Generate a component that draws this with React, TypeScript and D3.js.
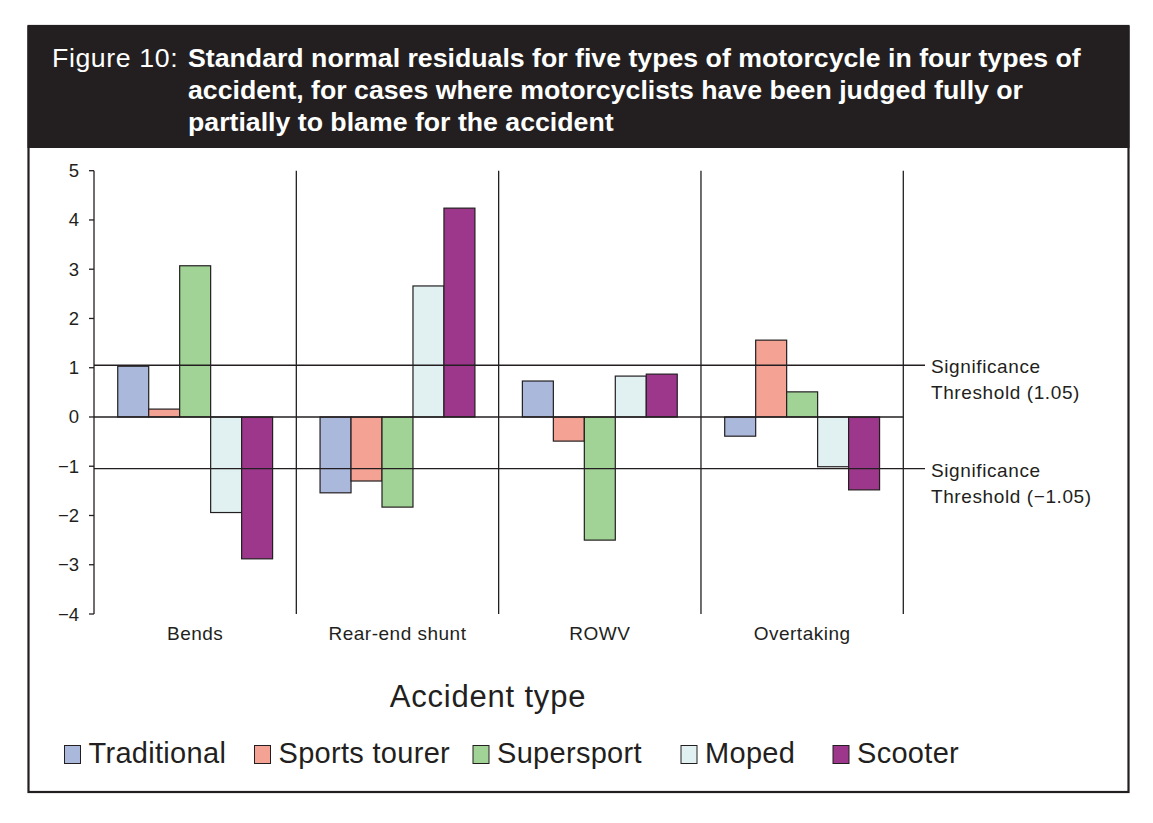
import React from "react";
import * as d3 from "d3";

const categories = ["Bends", "Rear-end shunt", "ROWV", "Overtaking"];
const seriesNames = ["Traditional", "Sports tourer", "Supersport", "Moped", "Scooter"];
const traditional = [1.03, -1.54, 0.73, -0.39];
const sportsTourer = [0.16, -1.3, -0.49, 1.56];
const supersport = [3.07, -1.83, -2.5, 0.51];
const moped = [-1.94, 2.66, 0.83, -1.01];
const scooter = [-2.88, 4.24, 0.87, -1.48];
const seriesValues = [traditional, sportsTourer, supersport, moped, scooter];
const seriesColors = ["#aab8dc", "#f4a294", "#a2d396", "#e1f0f0", "#9c378b"];
const yTicks = [5, 4, 3, 2, 1, 0, -1, -2, -3, -4];
const thresholds = [1.05, -1.05];
const titleLines = [
  "Standard normal residuals for five types of motorcycle in four types of",
  "accident, for cases where motorcyclists have been judged fully or",
  "partially to blame for the accident",
];

const FONT = "'Liberation Sans', Arial, Helvetica, sans-serif";
const DARK = "#231f20";

export default function App() {
  const left = 94;
  const right = 903.3;
  const top = 170.7;
  const bottom = 614;
  const y = d3.scaleLinear().domain([-4, 5]).range([bottom, top]);
  const x0 = d3.scaleBand<string>().domain(categories).range([left, right]).padding(0);
  const x1 = d3
    .scaleBand<string>()
    .domain(seriesNames)
    .range([0, x0.bandwidth()])
    .paddingInner(0)
    .paddingOuter(0.766);
  const fmt = (v: number) => (v < 0 ? "\u2212" + Math.abs(v) : String(v));
  const legendX = [64.5, 254.5, 473, 681, 833];

  return (
    <svg
      width={1153}
      height={823}
      style={{ position: "absolute", left: 0, top: 0, background: "#fff" }}
      fontFamily={FONT}
    >
      {/* frame */}
      <rect x={28.5} y={26} width={1100} height={766} fill="#fff" stroke={DARK} strokeWidth={2.2} />
      <rect x={27.5} y={26} width={1102} height={122} fill={DARK} />
      <text x={52} y={67} fill="#fff" fontSize={26.7} fontWeight="normal" letterSpacing={0.6}>
        Figure 10:
      </text>
      {titleLines.map((t, i) => (
        <text key={i} x={188} y={67 + i * 32} fill="#fff" fontSize={26.7} fontWeight="bold">
          {t}
        </text>
      ))}

      {/* bars */}
      {categories.map((c, ci) => (
        <g key={c} transform={`translate(${x0(c)},0)`}>
          {seriesNames.map((s, si) => {
            const v = seriesValues[si][ci];
            const y0 = y(0);
            const yv = y(v);
            return (
              <rect
                key={s}
                x={x1(s)}
                y={Math.min(y0, yv)}
                width={x1.bandwidth()}
                height={Math.abs(yv - y0)}
                fill={seriesColors[si]}
                stroke={DARK}
                strokeWidth={1.2}
              />
            );
          })}
        </g>
      ))}

      {/* zero line */}
      <line x1={left} x2={right} y1={y(0)} y2={y(0)} stroke={DARK} strokeWidth={1.3} />
      {/* threshold lines */}
      {thresholds.map((t) => (
        <line key={t} x1={left} x2={925} y1={y(t)} y2={y(t)} stroke={DARK} strokeWidth={1.3} />
      ))}
      {/* dividers */}
      {categories.map((c) => (
        <line
          key={c}
          x1={(x0(c) as number) + x0.bandwidth()}
          x2={(x0(c) as number) + x0.bandwidth()}
          y1={top}
          y2={bottom}
          stroke={DARK}
          strokeWidth={1.3}
        />
      ))}

      {/* y axis */}
      <line x1={left} x2={left} y1={top} y2={bottom} stroke={DARK} strokeWidth={1.3} />
      {yTicks.map((t) => (
        <g key={t}>
          <line x1={left - 5} x2={left} y1={y(t)} y2={y(t)} stroke={DARK} strokeWidth={1.3} />
          <text x={79} y={y(t) + 6.5} textAnchor="end" fontSize={18.5} fill={DARK}>
            {fmt(t)}
          </text>
        </g>
      ))}

      {/* category labels */}
      {categories.map((c) => (
        <text
          key={c}
          x={(x0(c) as number) + x0.bandwidth() / 2}
          y={640}
          textAnchor="middle"
          fontSize={19}
          letterSpacing={0.5}
          fill={DARK}
        >
          {c}
        </text>
      ))}

      {/* threshold labels */}
      {thresholds.map((t) => (
        <g key={"lab" + t}>
          <text x={931} y={y(t) + 8} fontSize={19} letterSpacing={0.6} fill={DARK}>
            Significance
          </text>
          <text x={931} y={y(t) + 34} fontSize={19} letterSpacing={0.6} fill={DARK}>
            {`Threshold (${t < 0 ? "\u2212" : ""}${Math.abs(t).toFixed(2)})`}
          </text>
        </g>
      ))}

      {/* axis title */}
      <text x={488} y={707} textAnchor="middle" fontSize={31} letterSpacing={0.8} fill={DARK}>
        Accident type
      </text>

      {/* legend */}
      {seriesNames.map((s, i) => (
        <g key={s}>
          <rect
            x={legendX[i]}
            y={745.5}
            width={16}
            height={18}
            fill={seriesColors[i]}
            stroke={DARK}
            strokeWidth={1}
          />
          <text x={legendX[i] + 24} y={763} fontSize={29} letterSpacing={0.3} fill={DARK}>
            {s}
          </text>
        </g>
      ))}
    </svg>
  );
}
